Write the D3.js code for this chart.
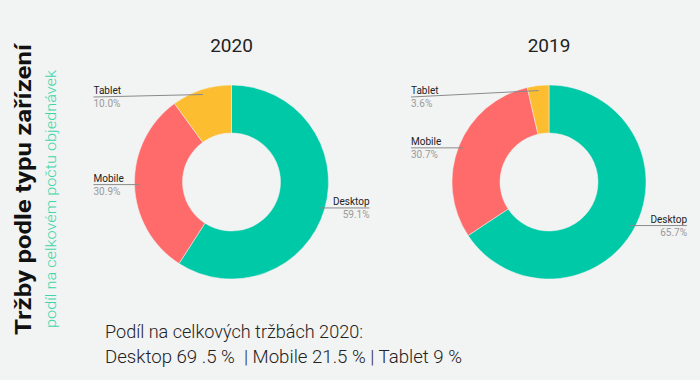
<!DOCTYPE html>
<html>
<head>
<meta charset="utf-8">
<script src="https://cdn.jsdelivr.net/npm/d3@7"></script>
<style>
  html, body { margin: 0; padding: 0; background: #f2f3f3; }
  svg { display: block; }
  text { font-family: Roboto, "Noto Sans", sans-serif; }
</style>
</head>
<body>
<svg id="chart" width="700" height="380"></svg>
<script>
// ---- data ----
const categories = ["Desktop", "Mobile", "Tablet"];
const years = ["2020", "2019"];
const values2020 = [59.1, 30.9, 10.0];
const values2019 = [65.7, 30.7, 3.6];
const seriesValues = [values2020, values2019];
const colors = ["#00c9a7", "#ff6b6b", "#fcbd30"];
const title = "Tržby podle typu zařízení";
const subtitle = "podíl na celkovém počtu objednávek";
const noteLines = ["Podíl na celkových tržbách 2020:", "Desktop 69 .5 %  | Mobile 21.5 % | Tablet 9 %"];

// ---- layout ----
const W = 700, H = 380;
const svg = d3.select("#chart");
svg.append("rect").attr("width", W).attr("height", H).attr("fill", "#f2f3f3");

const centers = [231.5, 549];
const cy = 182;
const outerR = 97, innerR = 49;
const anchorR = 92;
const labelOffset = 138;

const color = d3.scaleOrdinal().domain(categories).range(colors);
const pie = d3.pie().sort(null).value(d => d.value);
const arc = d3.arc().innerRadius(innerR).outerRadius(outerR);

years.forEach((yr, i) => {
  const cx = centers[i];
  const data = categories.map((c, k) => ({ cat: c, value: seriesValues[i][k] }));
  const arcs = pie(data);
  const g = svg.append("g").attr("transform", `translate(${cx},${cy})`);

  g.selectAll("path").data(arcs).join("path")
    .attr("d", arc)
    .attr("fill", d => color(d.data.cat))
    .attr("stroke", "#f2f3f3")
    .attr("stroke-width", 0.5);

  svg.append("text")
    .attr("x", cx).attr("y", 52)
    .attr("text-anchor", "middle")
    .attr("font-size", 19)
    .attr("fill", "#222")
    .text(yr);

  arcs.forEach(d => {
    const mid = (d.startAngle + d.endAngle) / 2;
    const ax = anchorR * Math.sin(mid);
    const ay = -anchorR * Math.cos(mid);
    const right = ax > 0;
    const ly = Math.max(ay, -85);
    const lx = right ? labelOffset : -labelOffset;
    g.append("line")
      .attr("x1", ax).attr("y1", ay)
      .attr("x2", lx).attr("y2", ly)
      .attr("stroke", "#8a8a8a").attr("stroke-width", 1);
    const anchor = right ? "end" : "start";
    g.append("text")
      .attr("x", lx).attr("y", ly - 3)
      .attr("text-anchor", anchor)
      .attr("font-size", 10)
      .attr("fill", "#222")
      .text(d.data.cat);
    g.append("text")
      .attr("x", lx).attr("y", ly + 10)
      .attr("text-anchor", anchor)
      .attr("font-size", 10)
      .attr("fill", "#9a9a9a")
      .text(d.data.value.toFixed(1) + "%");
  });
});

// vertical titles
svg.append("text")
  .attr("transform", "translate(31,335) rotate(-90)")
  .attr("font-size", 22)
  .attr("font-weight", 700)
  .attr("fill", "#111")
  .attr("textLength", 291)
  .attr("lengthAdjust", "spacingAndGlyphs")
  .text(title);
svg.append("text")
  .attr("transform", "translate(56,328) rotate(-90)")
  .attr("font-size", 14.5)
  .attr("font-weight", 300)
  .attr("fill", "#3dd6aa")
  .attr("textLength", 258)
  .attr("lengthAdjust", "spacingAndGlyphs")
  .text(subtitle);

// bottom note
const noteWidths = [258, 357];
noteLines.forEach((t, k) => {
  svg.append("text")
    .attr("x", 105).attr("y", 338 + k * 25)
    .attr("font-size", 17.5)
    .attr("font-weight", 300)
    .attr("fill", "#222")
    .style("white-space", "pre")
    .attr("textLength", noteWidths[k])
    .attr("lengthAdjust", "spacingAndGlyphs")
    .text(t);
});
</script>
</body>
</html>
